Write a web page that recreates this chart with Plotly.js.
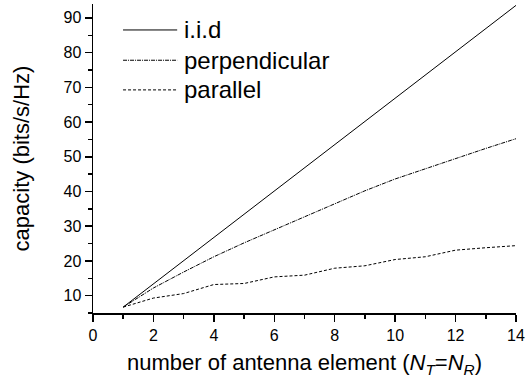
<!DOCTYPE html>
<html>
<head>
<meta charset="utf-8">
<script src="https://cdn.plot.ly/plotly-3.0.1.min.js"></script>
<style>html,body{margin:0;padding:0;background:#fff;}#chart{width:526px;height:392px;}</style>
</head>
<body>
<div id="chart"></div>
<script>
const antennas = [1,2,3,4,5,6,7,8,9,10,11,12,13,14];
const iid = [6.7,13.4,20.1,26.7,33.4,40.1,46.8,53.5,60.1,66.8,73.5,80.2,86.9,93.6];
const perpendicular = [6.7,12.2,16.8,21.2,25.2,29.0,32.7,36.6,40.2,43.6,46.6,49.5,52.4,55.2];
const parallel = [6.7,9.3,10.6,13.2,13.5,15.4,15.9,17.9,18.6,20.4,21.2,23.1,23.8,24.4];
const seriesNames = ['i.i.d','perpendicular','parallel'];
const xTickVals = [0,2,4,6,8,10,12,14];
const yTickVals = [10,20,30,40,50,60,70,80,90];

const font = 'Liberation Sans, Arial, sans-serif';
const dashes = ['solid','4px,1px,1px,1px','3px,2px'];
const series = [iid, perpendicular, parallel];

const traces = series.map((s,i)=>({
  x: antennas, y: s, type:'scatter', mode:'lines', name: seriesNames[i],
  line:{color:'#000', width:1, dash:dashes[i]}, showlegend:false
}));

const legY = [0.916, 0.818, 0.722];
const shapes = legY.map((yy,i)=>({
  type:'line', xref:'paper', yref:'paper', x0:0.071, x1:0.199, y0:yy, y1:yy,
  line:{color:'#000', width:1, dash:dashes[i]}
}));
const annotations = legY.map((yy,i)=>({
  xref:'paper', yref:'paper', x:0.21, y:yy, xanchor:'left', yanchor:'middle',
  text: seriesNames[i], showarrow:false, font:{family:font, size:24, color:'#000'}
}));

const layout = {
  width:526, height:392,
  margin:{l:93, r:10, t:4, b:79},
  paper_bgcolor:'#fff', plot_bgcolor:'#fff',
  font:{family:font, color:'#000'},
  xaxis:{
    range:[0,14], tickvals:xTickVals, ticktext:xTickVals.map(String),
    showgrid:false, zeroline:false, showline:true, linecolor:'#000', linewidth:1.5,
    ticks:'outside', ticklen:7, tickwidth:1.5, tickcolor:'#000',
    tickfont:{family:font, size:16, color:'#000'},
    minor:{dtick:1, tick0:0, ticks:'outside', ticklen:4, tickwidth:1.5, tickcolor:'#000', showgrid:false},
    title:{text:'number of antenna element (<i>N</i><sub><i>T</i></sub>=<i>N</i><sub><i>R</i></sub>)', font:{family:font, size:22, color:'#000'}, standoff:12}
  },
  yaxis:{
    range:[5,94], tickvals:yTickVals, ticktext:yTickVals.map(String),
    showgrid:false, zeroline:false, showline:true, linecolor:'#000', linewidth:1.5,
    ticks:'outside', ticklen:7, tickwidth:1.5, tickcolor:'#000',
    tickfont:{family:font, size:16, color:'#000'},
    minor:{dtick:5, tick0:0, ticks:'outside', ticklen:4, tickwidth:1.5, tickcolor:'#000', showgrid:false},
    title:{text:'capacity (bits/s/Hz)', font:{family:font, size:22, color:'#000'}, standoff:28}
  },
  shapes: shapes,
  annotations: annotations
};

Plotly.newPlot('chart', traces, layout, {displayModeBar:false, staticPlot:true});
</script>
</body>
</html>
